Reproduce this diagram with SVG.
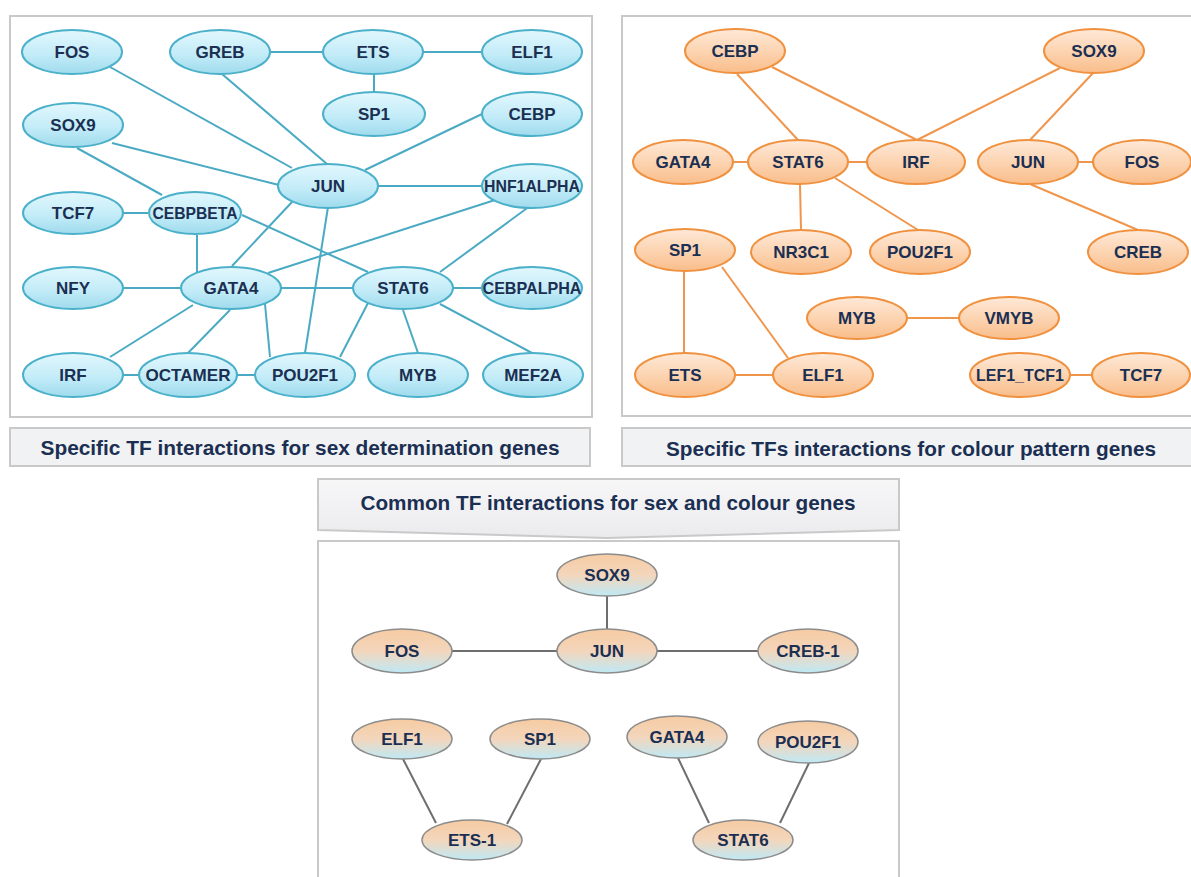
<svg xmlns="http://www.w3.org/2000/svg" width="1191" height="877" viewBox="0 0 1191 877">
<defs>
<linearGradient id="gBlue" x1="0" y1="0" x2="0" y2="1">
<stop offset="0" stop-color="#e2f7fd"/><stop offset="0.55" stop-color="#c3ecf8"/><stop offset="1" stop-color="#9fdbed"/>
</linearGradient>
<linearGradient id="gOrange" x1="0" y1="0" x2="0" y2="1">
<stop offset="0" stop-color="#fee9d8"/><stop offset="0.55" stop-color="#fcd2ae"/><stop offset="1" stop-color="#f9bd8a"/>
</linearGradient>
<linearGradient id="gMix" x1="0" y1="0" x2="0" y2="1">
<stop offset="0" stop-color="#f6cba2"/><stop offset="0.5" stop-color="#f3d6bc"/><stop offset="1" stop-color="#bfe9f5"/>
</linearGradient>
<linearGradient id="gBanner" x1="0" y1="0" x2="0" y2="1">
<stop offset="0" stop-color="#f7f7f8"/><stop offset="1" stop-color="#ebebee"/>
</linearGradient>
</defs>
<style>
.panel{fill:#ffffff;stroke:#c9c9c9;stroke-width:2}
.cap{fill:#f1f2f4;stroke:#c9c9c9;stroke-width:2}
.capt{font-family:"Liberation Sans",Arial,sans-serif;font-weight:bold;font-size:21px;fill:#1b2f52;text-anchor:middle}
.nb{fill:url(#gBlue);stroke:#4bb0c9;stroke-width:2}
.no{fill:url(#gOrange);stroke:#f0913f;stroke-width:2}
.nm{fill:url(#gMix);stroke:#8c8c8c;stroke-width:1.5}
.lbl{font-family:"Liberation Sans",Arial,sans-serif;font-weight:bold;font-size:17px;fill:#1b2f52;text-anchor:middle}
.eb{stroke:#4aaac3;stroke-width:2;fill:none}
.eo{stroke:#f0954c;stroke-width:2;fill:none}
.eg{stroke:#6e6e6e;stroke-width:2;fill:none}
</style>

<!-- panels -->
<rect class="panel" x="10" y="16" width="582" height="401"/>
<rect class="panel" x="622" y="16" width="580" height="400"/>
<rect class="panel" x="318" y="541" width="581" height="350"/>

<!-- captions -->
<g id="caption-sex">
<rect class="cap" x="10" y="428" width="580" height="38"/>
<text class="capt" x="300" y="455" textLength="519" lengthAdjust="spacingAndGlyphs">Specific TF interactions for sex determination genes</text>
</g>
<g id="caption-colour">
<rect class="cap" x="622" y="428" width="580" height="38"/>
<text class="capt" x="911" y="456" textLength="490" lengthAdjust="spacingAndGlyphs">Specific TFs interactions for colour pattern genes</text>
</g>
<g id="caption-common">
<polygon points="318,479 899,479 899,530 607,538 318,530" fill="url(#gBanner)" stroke="#c9c9c9" stroke-width="2"/>
<text class="capt" x="608" y="510" textLength="495" lengthAdjust="spacingAndGlyphs">Common TF interactions for sex and colour genes</text>
</g>

<!-- connectors -->
<g id="connectors">
<!-- left (sex determination) -->
<line class="eb" x1="110" y1="67" x2="292" y2="168"/>
<line class="eb" x1="222" y1="74" x2="327" y2="164"/>
<line class="eb" x1="269" y1="52" x2="323" y2="52"/>
<line class="eb" x1="423" y1="52" x2="482" y2="52"/>
<line class="eb" x1="374" y1="74" x2="374" y2="92"/>
<line class="eb" x1="112" y1="143" x2="279" y2="185"/>
<line class="eb" x1="77" y1="148" x2="162" y2="195"/>
<line class="eb" x1="482" y1="114" x2="365" y2="170"/>
<line class="eb" x1="377" y1="186" x2="482" y2="186"/>
<line class="eb" x1="123" y1="213" x2="148" y2="213"/>
<line class="eb" x1="197" y1="235" x2="197" y2="272"/>
<line class="eb" x1="242" y1="215" x2="368" y2="272"/>
<line class="eb" x1="292" y1="202" x2="232" y2="266"/>
<line class="eb" x1="328" y1="207" x2="305" y2="353"/>
<line class="eb" x1="495" y1="200" x2="268" y2="273"/>
<line class="eb" x1="530" y1="206" x2="440" y2="272"/>
<line class="eb" x1="123" y1="288" x2="181" y2="288"/>
<line class="eb" x1="280" y1="288" x2="353" y2="288"/>
<line class="eb" x1="193" y1="305" x2="110" y2="357"/>
<line class="eb" x1="230" y1="310" x2="188" y2="353"/>
<line class="eb" x1="265" y1="304" x2="270" y2="357"/>
<line class="eb" x1="368" y1="303" x2="340" y2="357"/>
<line class="eb" x1="123" y1="375" x2="138" y2="375"/>
<line class="eb" x1="237" y1="375" x2="255" y2="375"/>
<line class="eb" x1="453" y1="288" x2="481" y2="288"/>
<line class="eb" x1="403" y1="310" x2="418" y2="353"/>
<line class="eb" x1="440" y1="304" x2="532" y2="353"/>
<!-- right (colour pattern) -->
<line class="eo" x1="737" y1="74" x2="798" y2="140"/>
<line class="eo" x1="772" y1="67" x2="917" y2="140"/>
<line class="eo" x1="1060" y1="68" x2="917" y2="140"/>
<line class="eo" x1="1093" y1="73" x2="1030" y2="140"/>
<line class="eo" x1="733" y1="162" x2="749" y2="162"/>
<line class="eo" x1="848" y1="162" x2="867" y2="162"/>
<line class="eo" x1="1078" y1="162" x2="1093" y2="162"/>
<line class="eo" x1="800" y1="184" x2="801" y2="230"/>
<line class="eo" x1="835" y1="178" x2="918" y2="230"/>
<line class="eo" x1="1030" y1="184" x2="1138" y2="230"/>
<line class="eo" x1="684" y1="271" x2="684" y2="353"/>
<line class="eo" x1="722" y1="267" x2="788" y2="358"/>
<line class="eo" x1="735" y1="375" x2="773" y2="375"/>
<line class="eo" x1="908" y1="318" x2="959" y2="318"/>
<line class="eo" x1="1070" y1="375" x2="1092" y2="375"/>
<!-- common -->
<line class="eg" x1="607" y1="596" x2="607" y2="629"/>
<line class="eg" x1="452" y1="651" x2="557" y2="651"/>
<line class="eg" x1="657" y1="651" x2="758" y2="651"/>
<line class="eg" x1="403" y1="759" x2="436" y2="823"/>
<line class="eg" x1="541" y1="759" x2="507" y2="824"/>
<line class="eg" x1="678" y1="758" x2="709" y2="823"/>
<line class="eg" x1="809" y1="763" x2="780" y2="823"/>
</g>

<!-- left panel nodes -->
<g id="s-FOS"><ellipse class="nb" cx="72" cy="52" rx="50" ry="22"/><text class="lbl" x="72" y="58">FOS</text></g>
<g id="s-GREB"><ellipse class="nb" cx="220" cy="52" rx="50" ry="22"/><text class="lbl" x="220" y="58">GREB</text></g>
<g id="s-ETS"><ellipse class="nb" cx="373" cy="52" rx="50" ry="22"/><text class="lbl" x="373" y="58">ETS</text></g>
<g id="s-ELF1"><ellipse class="nb" cx="532" cy="52" rx="50" ry="22"/><text class="lbl" x="532" y="58">ELF1</text></g>
<g id="s-SP1"><ellipse class="nb" cx="374" cy="114" rx="51" ry="22"/><text class="lbl" x="374" y="120">SP1</text></g>
<g id="s-CEBP"><ellipse class="nb" cx="532" cy="114" rx="50" ry="22"/><text class="lbl" x="532" y="120">CEBP</text></g>
<g id="s-SOX9"><ellipse class="nb" cx="73" cy="125" rx="50" ry="22"/><text class="lbl" x="73" y="131">SOX9</text></g>
<g id="s-JUN"><ellipse class="nb" cx="328" cy="186" rx="50" ry="22"/><text class="lbl" x="328" y="192">JUN</text></g>
<g id="s-HNF1ALPHA"><ellipse class="nb" cx="532" cy="186" rx="50" ry="22"/><text class="lbl" x="532" y="192" textLength="96" lengthAdjust="spacingAndGlyphs">HNF1ALPHA</text></g>
<g id="s-TCF7"><ellipse class="nb" cx="73" cy="213" rx="50" ry="21"/><text class="lbl" x="73" y="219">TCF7</text></g>
<g id="s-CEBPBETA"><ellipse class="nb" cx="195" cy="213" rx="46" ry="21"/><text class="lbl" x="195" y="219" textLength="85" lengthAdjust="spacingAndGlyphs">CEBPBETA</text></g>
<g id="s-NFY"><ellipse class="nb" cx="73" cy="288" rx="50" ry="21"/><text class="lbl" x="73" y="294">NFY</text></g>
<g id="s-GATA4"><ellipse class="nb" cx="231" cy="288" rx="50" ry="21"/><text class="lbl" x="231" y="294">GATA4</text></g>
<g id="s-STAT6"><ellipse class="nb" cx="403" cy="288" rx="50" ry="21"/><text class="lbl" x="403" y="294">STAT6</text></g>
<g id="s-CEBPALPHA"><ellipse class="nb" cx="532" cy="288" rx="50" ry="21"/><text class="lbl" x="532" y="294" textLength="99" lengthAdjust="spacingAndGlyphs">CEBPALPHA</text></g>
<g id="s-IRF"><ellipse class="nb" cx="73" cy="375" rx="50" ry="22"/><text class="lbl" x="73" y="381">IRF</text></g>
<g id="s-OCTAMER"><ellipse class="nb" cx="188" cy="375" rx="49" ry="22"/><text class="lbl" x="188" y="381" textLength="85" lengthAdjust="spacingAndGlyphs">OCTAMER</text></g>
<g id="s-POU2F1"><ellipse class="nb" cx="305" cy="375" rx="50" ry="22"/><text class="lbl" x="305" y="381">POU2F1</text></g>
<g id="s-MYB"><ellipse class="nb" cx="418" cy="375" rx="50" ry="22"/><text class="lbl" x="418" y="381">MYB</text></g>
<g id="s-MEF2A"><ellipse class="nb" cx="533" cy="375" rx="50" ry="22"/><text class="lbl" x="533" y="381">MEF2A</text></g>

<!-- right panel nodes -->
<g id="c-CEBP"><ellipse class="no" cx="735" cy="51" rx="50" ry="22"/><text class="lbl" x="735" y="57">CEBP</text></g>
<g id="c-SOX9"><ellipse class="no" cx="1094" cy="51" rx="50" ry="22"/><text class="lbl" x="1094" y="57">SOX9</text></g>
<g id="c-GATA4"><ellipse class="no" cx="683" cy="162" rx="50" ry="22"/><text class="lbl" x="683" y="168">GATA4</text></g>
<g id="c-STAT6"><ellipse class="no" cx="798" cy="162" rx="50" ry="22"/><text class="lbl" x="798" y="168">STAT6</text></g>
<g id="c-IRF"><ellipse class="no" cx="916" cy="162" rx="49" ry="22"/><text class="lbl" x="916" y="168">IRF</text></g>
<g id="c-JUN"><ellipse class="no" cx="1028" cy="162" rx="50" ry="22"/><text class="lbl" x="1028" y="168">JUN</text></g>
<g id="c-FOS"><ellipse class="no" cx="1142" cy="162" rx="49" ry="22"/><text class="lbl" x="1142" y="168">FOS</text></g>
<g id="c-SP1"><ellipse class="no" cx="685" cy="250" rx="50" ry="21"/><text class="lbl" x="685" y="256">SP1</text></g>
<g id="c-NR3C1"><ellipse class="no" cx="801" cy="252" rx="50" ry="22"/><text class="lbl" x="801" y="258">NR3C1</text></g>
<g id="c-POU2F1"><ellipse class="no" cx="920" cy="252" rx="50" ry="22"/><text class="lbl" x="920" y="258">POU2F1</text></g>
<g id="c-CREB"><ellipse class="no" cx="1138" cy="252" rx="50" ry="22"/><text class="lbl" x="1138" y="258">CREB</text></g>
<g id="c-MYB"><ellipse class="no" cx="857" cy="318" rx="50" ry="21"/><text class="lbl" x="857" y="324">MYB</text></g>
<g id="c-VMYB"><ellipse class="no" cx="1009" cy="318" rx="50" ry="21"/><text class="lbl" x="1009" y="324">VMYB</text></g>
<g id="c-ETS"><ellipse class="no" cx="685" cy="375" rx="50" ry="22"/><text class="lbl" x="685" y="381">ETS</text></g>
<g id="c-ELF1"><ellipse class="no" cx="823" cy="375" rx="50" ry="22"/><text class="lbl" x="823" y="381">ELF1</text></g>
<g id="c-LEF1_TCF1"><ellipse class="no" cx="1020" cy="375" rx="50" ry="22"/><text class="lbl" x="1020" y="381" textLength="88" lengthAdjust="spacingAndGlyphs">LEF1_TCF1</text></g>
<g id="c-TCF7"><ellipse class="no" cx="1141" cy="375" rx="49" ry="22"/><text class="lbl" x="1141" y="381">TCF7</text></g>

<!-- common nodes -->
<g id="m-SOX9"><ellipse class="nm" cx="607" cy="575" rx="50" ry="21"/><text class="lbl" x="607" y="581">SOX9</text></g>
<g id="m-FOS"><ellipse class="nm" cx="402" cy="651" rx="50" ry="22"/><text class="lbl" x="402" y="657">FOS</text></g>
<g id="m-JUN"><ellipse class="nm" cx="607" cy="651" rx="50" ry="22"/><text class="lbl" x="607" y="657">JUN</text></g>
<g id="m-CREB-1"><ellipse class="nm" cx="808" cy="651" rx="50" ry="22"/><text class="lbl" x="808" y="657">CREB-1</text></g>
<g id="m-ELF1"><ellipse class="nm" cx="402" cy="739" rx="50" ry="20"/><text class="lbl" x="402" y="745">ELF1</text></g>
<g id="m-SP1"><ellipse class="nm" cx="540" cy="739" rx="50" ry="20"/><text class="lbl" x="540" y="745">SP1</text></g>
<g id="m-GATA4"><ellipse class="nm" cx="677" cy="737" rx="50" ry="21"/><text class="lbl" x="677" y="743">GATA4</text></g>
<g id="m-POU2F1"><ellipse class="nm" cx="808" cy="742" rx="50" ry="21"/><text class="lbl" x="808" y="748">POU2F1</text></g>
<g id="m-ETS-1"><ellipse class="nm" cx="472" cy="840" rx="50" ry="20"/><text class="lbl" x="472" y="846">ETS-1</text></g>
<g id="m-STAT6"><ellipse class="nm" cx="743" cy="840" rx="50" ry="20"/><text class="lbl" x="743" y="846">STAT6</text></g>
</svg>
